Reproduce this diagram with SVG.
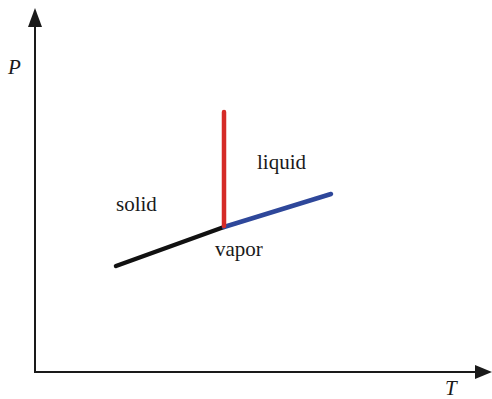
<svg xmlns="http://www.w3.org/2000/svg" width="492" height="399" viewBox="0 0 492 399">
<style>
.lbl{font-family:"Liberation Serif","DejaVu Serif",serif;font-size:21px;fill:#1a1a1a}
.ax{font-family:"Liberation Serif","DejaVu Serif",serif;font-size:21px;font-style:italic;fill:#1a1a1a}
.axis{stroke:#1a1a1a;stroke-width:2;fill:none}
.curve{stroke-width:4.5;stroke-linecap:round;fill:none}
</style>
<rect width="492" height="399" fill="#ffffff"/>
<g id="axes">
<line class="axis" x1="35" y1="373" x2="35" y2="24"/>
<polygon points="35,8 28,27 42,27" fill="#1a1a1a"/>
<line class="axis" x1="34" y1="372" x2="478" y2="372"/>
<polygon points="492,372 475,365 475,379" fill="#1a1a1a"/>
<text class="ax" x="8" y="74">P</text>
<text class="ax" x="445" y="395">T</text>
</g>
<g id="connectors">
<line class="curve" stroke="#111111" x1="116" y1="266" x2="224" y2="227"/>
<line class="curve" stroke="#2e479a" x1="224" y1="227" x2="331" y2="194"/>
<line class="curve" stroke="#d52b27" x1="224" y1="112" x2="224" y2="226"/>
</g>
<g id="solid"><text class="lbl" x="116" y="211">solid</text></g>
<g id="liquid"><text class="lbl" x="257" y="169">liquid</text></g>
<g id="vapor"><text class="lbl" x="215" y="256">vapor</text></g>
</svg>
